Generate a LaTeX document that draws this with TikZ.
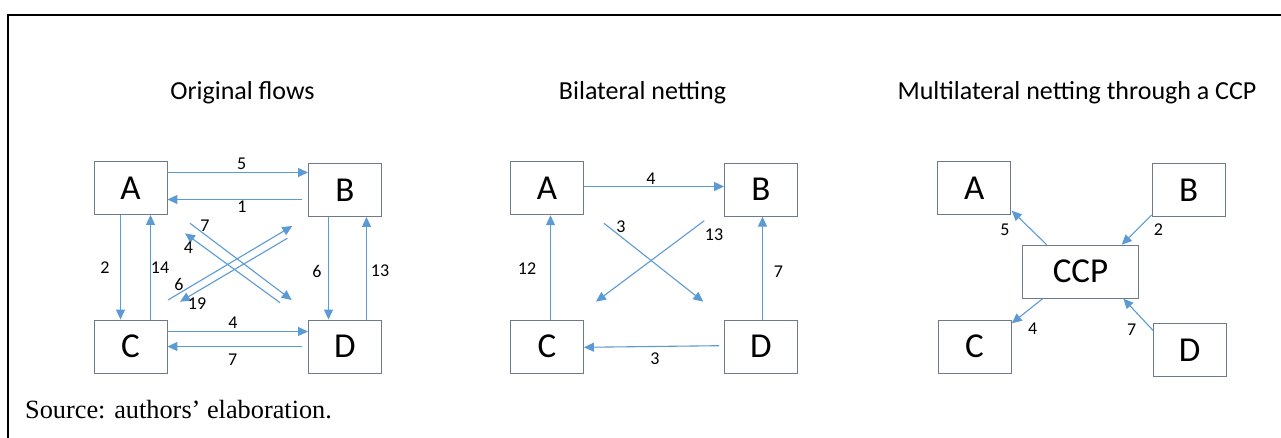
\documentclass[tikz,border=0pt]{standalone}
\usepackage{fontspec}
\setmainfont{Carlito}
\newfontfamily\srcfont{Liberation Serif}
\usetikzlibrary{arrows.meta}
\definecolor{flow}{RGB}{91,155,213}
\definecolor{boxc}{RGB}{110,122,138}
\tikzset{
  bx/.style={draw=boxc, line width=0.9pt, fill=white, minimum width=73pt, minimum height=53pt, inner sep=0pt, font=\fontsize{35}{36}\selectfont},
  arr/.style={draw=flow, line width=1.1pt, -{Triangle[length=10pt,width=9pt]}},
  lbl/.style={inner sep=0pt, font=\fontsize{18}{19}\selectfont},
  ttl/.style={inner sep=0pt, anchor=base, font=\fontsize{26}{28}\selectfont},
}
\begin{document}
\begin{tikzpicture}[x=1pt,y=-1pt]
\useasboundingbox (0,0) rectangle (1281,438);
\fill[white] (0,0) rectangle (1281,438);
\draw[line width=2.2pt] (8,438) -- (8,15) -- (1281,15);

% titles
\node[ttl] (t1) at (242.5,100) {Original flows};
\node[ttl] (t2) at (642.5,100) {Bilateral netting};
\node[ttl] (t3) at (1077,100) {Multilateral netting through a CCP};

% ---------- panel 1
\node[bx] (A1) at (130.5,188) {A};
\node[bx] (B1) at (345,190) {B};
\node[bx] (C1) at (130.5,346.5) {C};
\node[bx] (D1) at (345,346.5) {D};

\draw[arr] (A1.east |- 0,172.5) -- (B1.west |- 0,172.5);
\draw[arr] ([xshift=-6pt]B1.west |- 0,199.5) -- (A1.east |- 0,199.5);
\draw[arr] (120.5,0 |- A1.south) -- (120.5,0 |- C1.north);
\draw[arr] (150.5,0 |- C1.north) -- (150.5,0 |- A1.south);
\draw[arr] (328.5,0 |- B1.south) -- (328.5,0 |- D1.north);
\draw[arr] (366.5,0 |- D1.north) -- (366.5,0 |- B1.south);
\draw[arr] (C1.east |- 0,331.5) -- (D1.west |- 0,331.5);
\draw[arr] ([xshift=-6pt]D1.west |- 0,346.5) -- (C1.east |- 0,346.5);

\coordinate (p7s) at (190,223.3);   \coordinate (p7e) at (291.7,300);
\coordinate (p4s) at (280,302.7);   \coordinate (p4e) at (185,233.3);
\coordinate (p6s) at (168,300);     \coordinate (p6e) at (292.3,226);
\coordinate (p19s) at (287.3,238.3);\coordinate (p19e) at (180,301.7);
\draw[arr] (p7s) -- (p7e);
\draw[arr] (p4s) -- (p4e);
\draw[arr] (p6s) -- (p6e);
\draw[arr] (p19s) -- (p19e);

\node[lbl] (l1a) at (241.7,164) {5};
\node[lbl] (l1b) at (242,206.7) {1};
\node[lbl] (l1c) at (105,267.5) {2};
\node[lbl] (l1d) at (160,268) {14};
\node[lbl] (l1e) at (317,271.7) {6};
\node[lbl] (l1f) at (380,271) {13};
\node[lbl] (l1g) at (233,323) {4};
\node[lbl] (l1h) at (232.7,360) {7};
\node[lbl] (l1i) at (205,226) {7};
\node[lbl] (l1j) at (188.5,248) {4};
\node[lbl] (l1k) at (179,284) {6};
\node[lbl] (l1l) at (197,304) {19};

% ---------- panel 2
\node[bx] (A2) at (547,188.3) {A};
\node[bx] (B2) at (761,189.7) {B};
\node[bx] (C2) at (547,346.5) {C};
\node[bx] (D2) at (761,346.5) {D};

\draw[arr] (A2.east |- 0,186.5) -- (B2.west |- 0,186.5);
\draw[arr] (550.5,0 |- C2.north) -- (550.5,0 |- A2.south);
\draw[arr] (762.5,0 |- D2.north) -- (762.5,0 |- B2.south);
\draw[arr] ([xshift=-5pt]D2.west |- 0,345.7) -- (C2.east |- 0,347.3);

\coordinate (q3s) at (604,223.3);   \coordinate (q3e) at (703.3,301.7);
\coordinate (q13s) at (704.3,220.7);\coordinate (q13e) at (596,301.7);
\draw[arr] (q3s) -- (q3e);
\draw[arr] (q13s) -- (q13e);

\node[lbl] (l2a) at (651,178.5) {4};
\node[lbl] (l2b) at (527,268.3) {12};
\node[lbl] (l2c) at (778.3,271.7) {7};
\node[lbl] (l2d) at (655,358.3) {3};
\node[lbl] (l2e) at (621,226.7) {3};
\node[lbl] (l2f) at (714,235) {13};

% ---------- panel 3
\node[bx] (A3) at (974.2,188.3) {A};
\node[bx] (B3) at (1188.7,190) {B};
\node[bx] (C3) at (974.5,346.7) {C};
\node[bx] (D3) at (1189.7,350.3) {D};
\node[bx, minimum width=115.6pt] (P) at (1080.5,271.7) {CCP};

\draw[arr] (1046.7,0 |- P.north) -- (1011.7,210.7);
\draw[arr] (1151.7,215) -- (1121.7,0 |- P.north);
\draw[arr] (1042.7,0 |- P.south) -- (1011.7,323.3);
\draw[arr] (1153.3,330.7) -- (1123.3,0 |- P.south);

\node[lbl] (l3a) at (1005,229.3) {5};
\node[lbl] (l3b) at (1158.3,229.3) {2};
\node[lbl] (l3c) at (1032.7,328.3) {4};
\node[lbl] (l3d) at (1131.7,329.3) {7};

% source
\node[inner sep=0pt, anchor=base west, font=\srcfont\fontsize{26.3}{28}\selectfont] (src) at (25,418.3) {Source: authors’ elaboration.};
\end{tikzpicture}
\end{document}
